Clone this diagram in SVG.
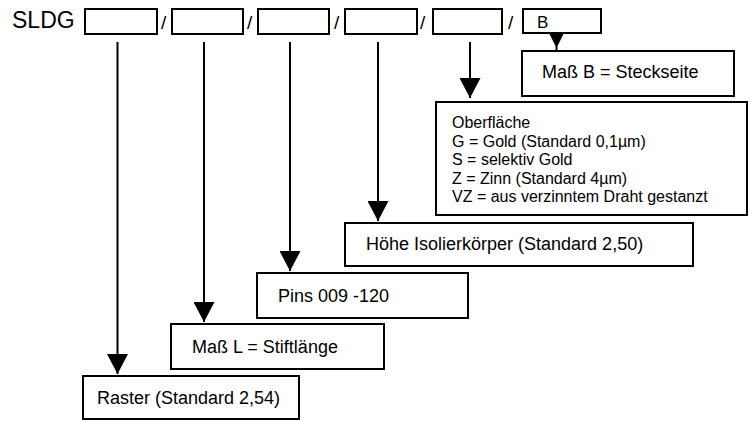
<svg xmlns="http://www.w3.org/2000/svg" width="755" height="421" viewBox="0 0 755 421">
<style>
  .box { fill: #fff; stroke: #000; stroke-width: 2; }
  .t { font-family: "Liberation Sans", Arial, sans-serif; fill: #000; font-size: 18px; }
  .s { font-size: 16px; }
  .sl { font-size: 19px; }
  .conn { stroke: #000; stroke-width: 2; fill: none; }
</style>
<defs>
  <marker id="arr" viewBox="0 0 20 21" refX="20" refY="10.5" markerWidth="20" markerHeight="21" markerUnits="userSpaceOnUse" orient="auto">
    <path d="M0,0 L20,10.5 L0,21 z" fill="#000"/>
  </marker>
</defs>
<rect width="755" height="421" fill="#fff"/>
<g id="header">
  <text class="t" x="12" y="28" style="font-size:23px">SLDG</text>
  <rect class="box" x="85" y="9" width="72" height="25"/>
  <text class="t sl" x="161" y="29">/</text>
  <rect class="box" x="172" y="9" width="71" height="25"/>
  <text class="t sl" x="247" y="29">/</text>
  <rect class="box" x="258" y="9" width="71" height="25"/>
  <text class="t sl" x="334" y="29">/</text>
  <rect class="box" x="345" y="9" width="72" height="25"/>
  <text class="t sl" x="420" y="29">/</text>
  <rect class="box" x="433" y="9" width="69" height="25"/>
  <text class="t sl" x="508" y="29">/</text>
  <rect class="box" x="523" y="9" width="78" height="24"/>
  <text class="t" x="537" y="28" style="font-size:17px">B</text>
</g>
<g id="connectors">
  <line class="conn" x1="117.5" y1="42" x2="117.5" y2="374" marker-end="url(#arr)"/>
  <line class="conn" x1="204" y1="42" x2="204" y2="322" marker-end="url(#arr)"/>
  <line class="conn" x1="290" y1="42" x2="290" y2="271" marker-end="url(#arr)"/>
  <line class="conn" x1="378" y1="42" x2="378" y2="221" marker-end="url(#arr)"/>
  <line class="conn" x1="470" y1="42" x2="470" y2="98" marker-end="url(#arr)"/>
  <polygon points="549.5,34 563.5,34 556.5,48" fill="#000"/>
  <line class="conn" x1="556.5" y1="46" x2="556.5" y2="51"/>
</g>
<g id="node-massb">
  <rect class="box" x="522" y="51" width="212" height="45"/>
  <text class="t" x="542" y="78">Maß B = Steckseite</text>
</g>
<g id="node-oberflaeche">
  <rect class="box" x="436" y="102" width="311" height="113"/>
  <text class="t s" x="452" y="128">Oberfläche</text>
  <text class="t s" x="452" y="146.5">G = Gold (Standard 0,1µm)</text>
  <text class="t s" x="452" y="165">S = selektiv Gold</text>
  <text class="t s" x="452" y="183.5">Z = Zinn (Standard 4µm)</text>
  <text class="t s" x="452" y="202">VZ = aus verzinntem Draht gestanzt</text>
</g>
<g id="node-hoehe">
  <rect class="box" x="345" y="223" width="348" height="43"/>
  <text class="t" x="366" y="250">Höhe Isolierkörper (Standard 2,50)</text>
</g>
<g id="node-pins">
  <rect class="box" x="257" y="273" width="211" height="45"/>
  <text class="t" x="278" y="302">Pins 009 -120</text>
</g>
<g id="node-massl">
  <rect class="box" x="171" y="324" width="213" height="45"/>
  <text class="t" x="192" y="353">Maß L = Stiftlänge</text>
</g>
<g id="node-raster">
  <rect class="box" x="83" y="376" width="216" height="43"/>
  <text class="t" x="97" y="404">Raster (Standard 2,54)</text>
</g>
</svg>
